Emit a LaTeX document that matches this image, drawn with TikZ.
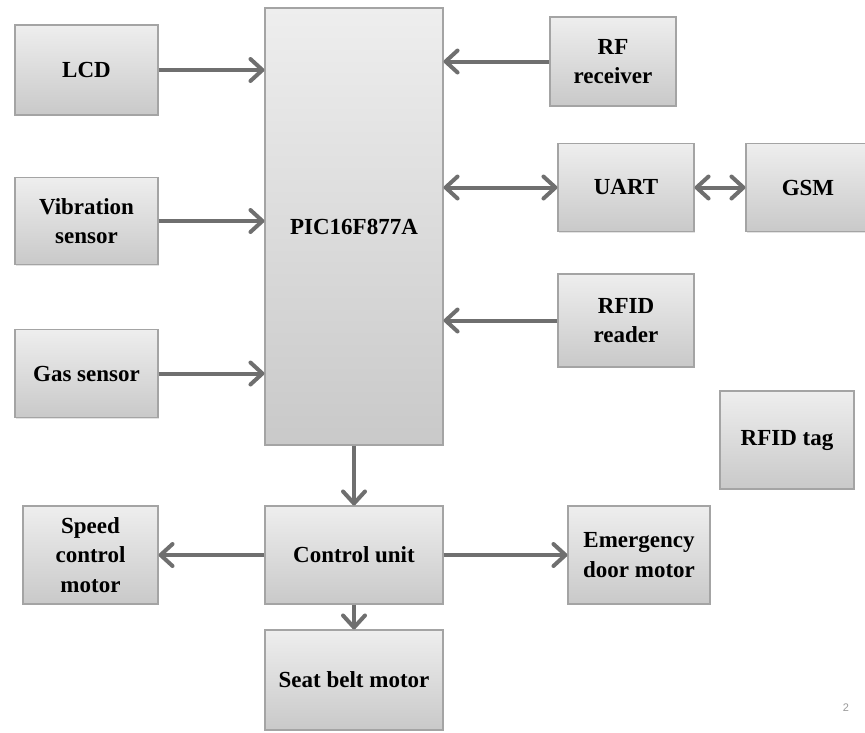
\documentclass[tikz,border=0pt]{standalone}
\usepackage{fontspec}
\setmainfont{Liberation Serif}
\newfontfamily\pgnumfont{Liberation Sans}
\usetikzlibrary{arrows.meta,shadows}
\definecolor{boxtop}{HTML}{EEEEEE}
\definecolor{boxbot}{HTML}{C9C9C9}
\definecolor{boxline}{HTML}{A4A4A4}
\definecolor{arrcol}{HTML}{6F6F6F}
\tikzset{
  blk/.style={draw=boxline, line width=1.1pt, top color=boxtop, bottom color=boxbot,
    font=\fontsize{23}{29.5}\selectfont\bfseries, align=center, inner sep=0pt,
    drop shadow={opacity=0.22, shadow xshift=1.2pt, shadow yshift=-1.2pt}},
  conn/.style={draw=arrcol, line width=4pt, line cap=butt,
    -{Straight Barb[length=12pt,width=22pt,round]}},
  biconn/.style={draw=arrcol, line width=4pt,
    {Straight Barb[length=12pt,width=22pt,round]}-{Straight Barb[length=12pt,width=22pt,round]}}
}
\begin{document}
\begin{tikzpicture}[x=1pt,y=-1pt]
\useasboundingbox (0,0) rectangle (865,732);
\node[blk, minimum width=143pt, minimum height=90pt] (lcd) at (86.5,70) {LCD};
\node[blk, minimum width=143pt, minimum height=87pt] (vib) at (86.5,221) {Vibration\\sensor};
\node[blk, minimum width=143pt, minimum height=88pt] (gas) at (86.5,373.5) {Gas sensor};
\node[blk, minimum width=178pt, minimum height=437pt] (pic) at (354,226.5) {PIC16F877A};
\node[blk, minimum width=126pt, minimum height=89pt] (rf) at (613,61.5) {RF\\receiver};
\node[blk, minimum width=136pt, minimum height=88pt] (uart) at (626,187.5) {UART};
\node[blk, minimum width=124pt, minimum height=88pt] (gsm) at (808,187.5) {GSM};
\node[blk, minimum width=136pt, minimum height=93pt] (rfidr) at (626,320.5) {RFID\\reader};
\node[blk, minimum width=134pt, minimum height=98pt] (tag) at (787,440) {RFID tag};
\node[blk, minimum width=135pt, minimum height=98pt] (speed) at (90.5,555) {Speed\\control\\motor};
\node[blk, minimum width=178pt, minimum height=98pt] (ctrl) at (354,555) {Control unit};
\node[blk, minimum width=142pt, minimum height=98pt] (emer) at (639,555) {Emergency\\door motor};
\node[blk, minimum width=178pt, minimum height=100pt] (seat) at (354,680) {Seat belt motor};
\node[text=gray!80, font=\pgnumfont\fontsize{11}{13}\selectfont] (pg) at (846,708) {2};
\draw[conn] (lcd.east) -- (lcd.east -| pic.west);
\draw[conn] (vib.east) -- (vib.east -| pic.west);
\draw[conn] (gas.east) -- (gas.east -| pic.west);
\draw[conn] (rf.west) -- (rf.west -| pic.east);
\draw[biconn] (uart.west -| pic.east) -- (uart.west);
\draw[biconn] (uart.east) -- (gsm.west);
\draw[conn] (rfidr.west) -- (rfidr.west -| pic.east);
\draw[conn] (pic.south) -- (ctrl.north);
\draw[conn] (ctrl.west) -- (speed.east);
\draw[conn] (ctrl.east) -- (ctrl.east -| emer.west);
\draw[conn] (ctrl.south) -- (seat.north);
\end{tikzpicture}
\end{document}
